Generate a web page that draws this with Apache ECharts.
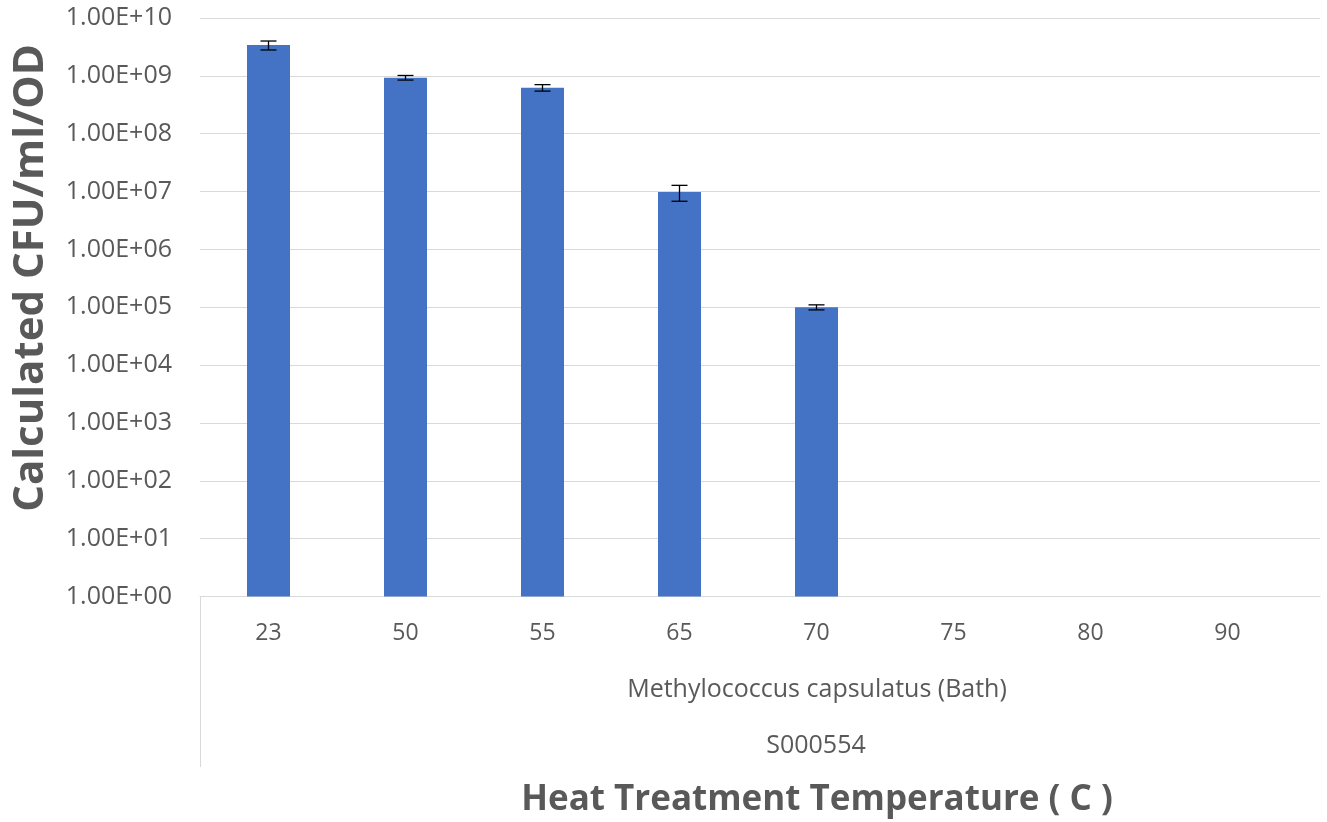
<!DOCTYPE html>
<html>
<head>
<meta charset="utf-8">
<script src="https://cdn.jsdelivr.net/npm/echarts@6/dist/echarts.min.js"></script>
<style>html,body{margin:0;padding:0;background:#fff;}#c{width:1327px;height:822px;}</style>
</head>
<body>
<div id="c"></div>
<script>
const categories = ['23', '50', '55', '65', '70', '75', '80', '90'];
const values = [3.4e9, 9.3e8, 6.25e8, 9.8e6, 1.0e5, null, null, null];
const errors = [0.6e9, 0.85e8, 0.8e8, 3.0e6, 1.0e4, null, null, null];
const groupLabel = 'Methylococcus capsulatus (Bath)';
const groupLabel2 = 'S000554';
const yTitle = 'Calculated CFU/ml/OD';
const xTitle = 'Heat Treatment Temperature ( C )';

const FONT = '"Open Sans", "Noto Sans", sans-serif';
const TXT = '#595959';
const GRID_C = '#d9d9d9';

const chart = echarts.init(document.getElementById('c'));

const errData = values.map((v, i) => v == null ? null : [i, v - errors[i], v + errors[i]]).filter(d => d);

function fmt(v) {
  const e = Math.round(Math.log10(v));
  return '1.00E+' + (e < 10 ? '0' : '') + e;
}

const gTop = 18, gBottom = 822 - 596.5;

chart.setOption({
  animation: false,
  backgroundColor: '#fff',
  grid: [
    { left: 200, right: 7, top: gTop, bottom: gBottom },
    { left: 200, right: 31, top: gTop, bottom: gBottom }
  ],
  xAxis: [
    { gridIndex: 0, type: 'value', min: 0, max: 1, show: true,
      axisLine: { show: true, lineStyle: { color: GRID_C, width: 1 } },
      axisTick: { show: false }, axisLabel: { show: false }, splitLine: { show: false } },
    { gridIndex: 1, type: 'category', data: categories,
      axisLine: { show: false }, axisTick: { show: false },
      axisLabel: { color: TXT, fontSize: 23, fontFamily: FONT, margin: 25 } }
  ],
  yAxis: [
    { gridIndex: 0, type: 'log', logBase: 10, min: 1, max: 1e10, interval: 1,
      axisLine: { show: false }, axisTick: { show: false },
      axisLabel: { color: TXT, fontSize: 25, fontFamily: FONT, margin: 28, formatter: fmt },
      splitLine: { show: true, lineStyle: { color: GRID_C, width: 1 } } },
    { gridIndex: 1, type: 'log', logBase: 10, min: 1, max: 1e10, interval: 1, show: false,
      splitLine: { show: false } }
  ],
  series: [
    { type: 'bar', xAxisIndex: 1, yAxisIndex: 1, data: values, barWidth: 43,
      itemStyle: { color: '#4472C4' } },
    { type: 'custom', xAxisIndex: 1, yAxisIndex: 1, data: errData, z: 10,
      renderItem: function (params, api) {
        const lo = api.coord([api.value(0), api.value(1)]);
        const hi = api.coord([api.value(0), api.value(2)]);
        const w = 8;
        const s = { stroke: '#000', lineWidth: 1.3 };
        return { type: 'group', children: [
          { type: 'line', shape: { x1: lo[0], y1: lo[1], x2: hi[0], y2: hi[1] }, style: s },
          { type: 'line', shape: { x1: lo[0] - w, y1: lo[1], x2: lo[0] + w, y2: lo[1] }, style: s },
          { type: 'line', shape: { x1: hi[0] - w, y1: hi[1], x2: hi[0] + w, y2: hi[1] }, style: s }
        ]};
      } }
  ],
  graphic: [
    { type: 'line', shape: { x1: 200.5, y1: 596, x2: 200.5, y2: 767 }, style: { stroke: GRID_C, lineWidth: 1 } },
    { type: 'text', x: 817, y: 690, style: { text: groupLabel, fill: TXT, font: '25px ' + FONT, textAlign: 'center', textVerticalAlign: 'middle' } },
    { type: 'text', x: 816, y: 746, style: { text: groupLabel2, fill: TXT, font: '25px ' + FONT, textAlign: 'center', textVerticalAlign: 'middle' } },
    { type: 'text', x: 817, y: 800, style: { text: xTitle, fill: TXT, font: 'bold 35px ' + FONT, textAlign: 'center', textVerticalAlign: 'middle' } },
    { type: 'text', x: 31, y: 278, rotation: Math.PI / 2, style: { text: yTitle, fill: TXT, font: 'bold 42px ' + FONT, textAlign: 'center', textVerticalAlign: 'middle' } }
  ]
});
</script>
</body>
</html>
